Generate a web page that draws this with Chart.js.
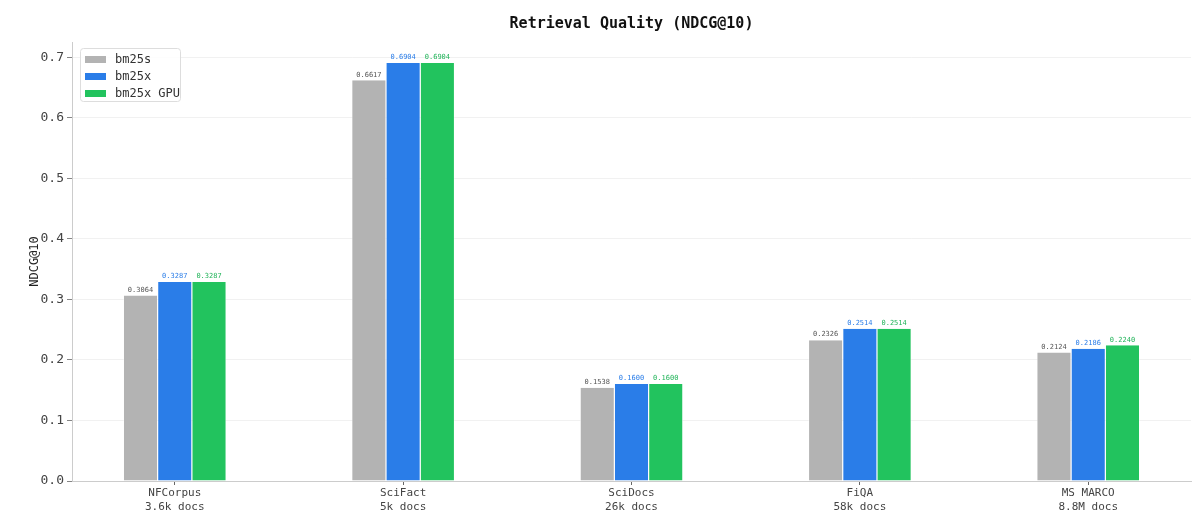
<!DOCTYPE html>
<html lang="en">
<head>
    <meta charset="UTF-8">
    <title>Retrieval Quality (NDCG@10)</title>
    <script src="https://cdn.jsdelivr.net/npm/chart.js"></script>
    <style>
        html, body { margin: 0; padding: 0; background: #fff; }
        #wrap { width: 1200px; height: 522px; }
    </style>
</head>
<body>
    <div id="wrap"><canvas id="qualityChart"></canvas></div>

    <script>
        // data
        const datasets = ["NFCorpus", "SciFact", "SciDocs", "FiQA", "MS MARCO"];
        const docCounts = ["3.6k docs", "5k docs", "26k docs", "58k docs", "8.8M docs"];
        const seriesNames = ["bm25s", "bm25x", "bm25x GPU"];
        const bm25s = [0.3064, 0.6617, 0.1538, 0.2326, 0.2124];
        const bm25x = [0.3287, 0.6904, 0.1600, 0.2514, 0.2186];
        const bm25xGpu = [0.3287, 0.6904, 0.1600, 0.2514, 0.2240];
        const yTicks = [0, 0.1, 0.2, 0.3, 0.4, 0.5, 0.6, 0.7];

        const mono = "'DejaVu Sans Mono', monospace";
        const colors = ["#b3b3b3", "#2a7de8", "#22c35e"];
        const labelColors = ["#555555", "#2a7de8", "#22b45a"];

        function toPoints(values) {
            return values.map((v, i) => ({ x: i, y: v }));
        }

        // small value text above every bar
        const valueLabels = {
            id: "valueLabels",
            afterDatasetsDraw(chart) {
                let ctx = chart.ctx;
                ctx.save();
                ctx.font = "7px " + mono;
                ctx.textAlign = "center";
                ctx.textBaseline = "bottom";
                chart.data.datasets.forEach((ds, d) => {
                    chart.getDatasetMeta(d).data.forEach((bar, i) => {
                        ctx.fillStyle = labelColors[d];
                        ctx.fillText(ds.data[i].y.toFixed(4), bar.x, bar.y - 2);
                    });
                });
                ctx.restore();
            }
        };

        // legend box in the top-left corner of the plot
        const cornerLegend = {
            id: "cornerLegend",
            afterDraw(chart) {
                let ctx = chart.ctx;
                let x = chart.chartArea.left + 8, y = chart.chartArea.top + 6;
                ctx.save();
                ctx.fillStyle = "rgba(255,255,255,0.85)";
                ctx.strokeStyle = "#dddddd";
                ctx.lineWidth = 1;
                ctx.beginPath();
                ctx.roundRect(x + 0.5, y + 0.5, 100, 53, 3);
                ctx.fill();
                ctx.stroke();
                ctx.font = "12px " + mono;
                ctx.textBaseline = "middle";
                seriesNames.forEach((name, k) => {
                    let rowY = y + 11 + k * 17;
                    ctx.fillStyle = colors[k];
                    ctx.fillRect(x + 5, rowY - 3, 21, 7);
                    ctx.fillStyle = "#333333";
                    ctx.fillText(name, x + 35, rowY + 1);
                });
                ctx.restore();
            }
        };

        let ctx = document.getElementById("qualityChart").getContext("2d");
        let chart = new Chart(ctx, {
            type: "bar",
            data: {
                datasets: [
                    { label: seriesNames[0], data: toPoints(bm25s), backgroundColor: colors[0] },
                    { label: seriesNames[1], data: toPoints(bm25x), backgroundColor: colors[1] },
                    { label: seriesNames[2], data: toPoints(bm25xGpu), backgroundColor: colors[2] }
                ]
            },
            options: {
                responsive: true,
                maintainAspectRatio: false,
                animation: false,
                datasets: {
                    bar: {
                        categoryPercentage: 0.45,
                        barPercentage: 1.0,
                        borderColor: "#ffffff",
                        borderWidth: { left: 0.6, right: 0.6, top: 0, bottom: 0 },
                        borderSkipped: false
                    }
                },
                layout: { padding: { left: 0, right: 9, top: 0, bottom: 0 } },
                plugins: {
                    legend: { display: false },
                    tooltip: { enabled: false },
                    title: {
                        display: true,
                        fullSize: false,
                        text: "Retrieval Quality (NDCG@10)",
                        color: "#111111",
                        font: { family: mono, size: 15, weight: "bold" },
                        padding: { top: 15, bottom: 9 }
                    }
                },
                scales: {
                    x: {
                        type: "linear",
                        min: -0.45,
                        max: 4.45,
                        offset: false,
                        afterBuildTicks: axis => {
                            axis.ticks = datasets.map((_, i) => ({ value: i }));
                        },
                        afterFit: axis => { axis.height = 41; },
                        ticks: {
                            autoSkip: false,
                            maxRotation: 0,
                            padding: 2,
                            color: "#444444",
                            font: { family: mono, size: 11 },
                            callback: v => [datasets[v], docCounts[v]]
                        },
                        grid: {
                            offset: false,
                            drawOnChartArea: false,
                            drawTicks: true,
                            tickLength: 4,
                            color: "#666666"
                        },
                        border: { color: "#cccccc", width: 1 }
                    },
                    y: {
                        min: 0,
                        max: 0.725,
                        afterBuildTicks: axis => {
                            axis.ticks = yTicks.map(v => ({ value: v }));
                        },
                        afterFit: axis => { axis.width = 72; },
                        ticks: {
                            padding: 3,
                            color: "#444444",
                            font: { family: mono, size: 13 },
                            callback: v => v.toFixed(1)
                        },
                        grid: {
                            color: "#eeeeee",
                            tickColor: "#666666",
                            tickLength: 5,
                            lineWidth: 0.8
                        },
                        border: { color: "#cccccc", width: 1 },
                        title: {
                            display: true,
                            text: "NDCG@10",
                            color: "#222222",
                            font: { family: mono, size: 12 },
                            padding: { top: 28, bottom: 0 }
                        }
                    }
                }
            },
            plugins: [valueLabels, cornerLegend]
        });
    </script>
</body>
</html>
